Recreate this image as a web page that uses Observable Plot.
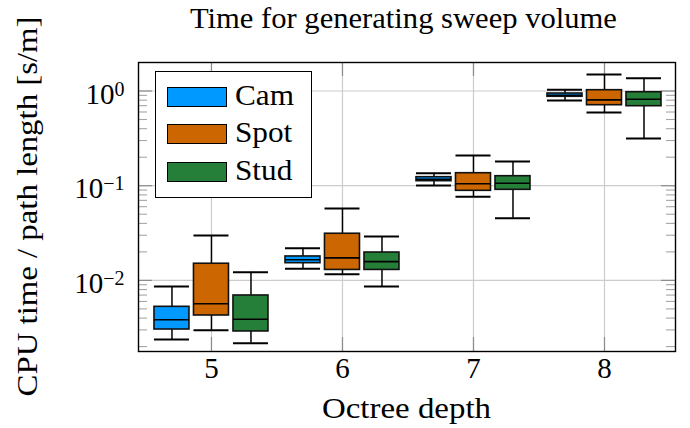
<!DOCTYPE html>
<html>
<head>
<meta charset="utf-8">
<script src="https://cdn.jsdelivr.net/npm/d3@7"></script>
<script src="https://cdn.jsdelivr.net/npm/@observablehq/plot@0.6"></script>
<style>
  body { margin: 0; background: #fff; }
  #wrap { position: relative; width: 690px; height: 428px; color: #000; background: #fff; }
  #title { height: 40px; box-sizing: border-box; width: 690px; padding-top: 4px; padding-left: 117px; line-height: 28px; text-align: center; white-space: nowrap; }
  #title span { display: inline-block; transform-origin: 50% 50%; }
  #legend { position: absolute; left: 155px; top: 71px; width: 157px; height: 127px; box-sizing: border-box; border: 1.4px solid #000; background: #fff; }
  .sw { position: absolute; left: 11px; width: 60px; height: 20px; box-sizing: border-box; border: 1.4px solid #000; }
  .lab { position: absolute; left: 79px; line-height: 29px; white-space: nowrap; transform-origin: 0 50%; }
  svg { display: block; }
</style>
</head>
<body>
<div id="wrap">
  <div id="title"><span></span></div>
  <div id="chart"></div>
  <div id="legend"></div>
</div>
<script>
// ---- data ----
const titleText = "Time for generating sweep volume";
const xLabel = "Octree depth";
const yLabel = "CPU time / path length [s/m]";
const depths = [5, 6, 7, 8];
const xTickLabels = ["5", "6", "7", "8"];
const seriesNames = ["Cam", "Spot", "Stud"];
const seriesColors = ["#0099ff", "#cc6600", "#267f39"];
const majorY = [0.01, 0.1, 1];
const yTickExponents = ["\u22122", "\u22121", "0"];
// per depth: [lower whisker, Q1, median, Q3, upper whisker]
const camStats = [
  [0.00238, 0.00303, 0.00384, 0.00526, 0.00862],
  [0.0133, 0.0152, 0.0165, 0.0179, 0.0219],
  [0.1005, 0.1116, 0.117, 0.123, 0.1355],
  [0.794, 0.869, 0.903, 0.941, 1.03]
];
const spotStats = [
  [0.00298, 0.00426, 0.00566, 0.0150, 0.0298],
  [0.0116, 0.0129, 0.0173, 0.0311, 0.0574],
  [0.0763, 0.0883, 0.1047, 0.1355, 0.2084],
  [0.593, 0.708, 0.807, 1.02, 1.493]
];
const studStats = [
  [0.00217, 0.00289, 0.00389, 0.00693, 0.0122],
  [0.00862, 0.0129, 0.0158, 0.0197, 0.0291],
  [0.0454, 0.0905, 0.106, 0.126, 0.180],
  [0.315, 0.691, 0.819, 0.971, 1.365]
];

// ---- font selection (serif, Computer-Modern-like) ----
const ctx = document.createElement("canvas").getContext("2d");
function hasFont(name) {
  const s = "mmmmmmmmmmlli10WQgy";
  for (const fb of ["monospace", "sans-serif"]) {
    ctx.font = `40px ${fb}`; const a = ctx.measureText(s).width;
    ctx.font = `40px "${name}", ${fb}`; const b = ctx.measureText(s).width;
    if (Math.abs(a - b) > 0.5) return true;
  }
  return false;
}
const fontCandidates = [["Liberation Serif", 29], ["Times New Roman", 29], ["DejaVu Serif", 26], ["Noto Serif", 27]];
let FONT = "serif", FS = 28;
for (const [f, s] of fontCandidates) { if (hasFont(f)) { FONT = f; FS = s; break; } }
const FAMILY = `"${FONT}", serif`;
function widthOf(text, size) {
  ctx.font = `${size}px ${FAMILY}`;
  return ctx.measureText(text).width;
}

// ---- layout ----
const W = 690, H = 388, mL = 138, mR = 15, mT = 22, mB = 77;
const xDomain = [4.443, 8.542];
const yDomain = [0.001775, 2.0];
const ppu = (W - mL - mR) / (xDomain[1] - xDomain[0]);
const decadePx = (H - mT - mB) / Math.log10(yDomain[1] / yDomain[0]);
const groupOffset = 39.5 / ppu;
const halfW = 17.5 / ppu;
const minorLen = 9, majorLen = 14;
const gridColor = "#cccccc", minorTickColor = "#a6a6a6", majorTickColor = "#8c8c8c";

const statsBySeries = [camStats, spotStats, studStats];
const rows = [];
seriesNames.forEach((s, i) => depths.forEach((d, j) => {
  const [lo, q1, med, q3, hi] = statsBySeries[i][j];
  const cx = d + (i - 1) * groupOffset;
  rows.push({series: s, cx, xl: cx - halfW, xr: cx + halfW, lo, q1, med, q3, hi});
}));

const minorY = [];
for (let e = -3; e <= 0; e++) for (let m = 2; m <= 9; m++) {
  const v = m * Math.pow(10, e);
  if (v > yDomain[0] && v < yDomain[1]) minorY.push(v);
}

const yLo = yDomain[0], yHi = yDomain[1];
const tickY = Math.pow(10, majorLen / decadePx);

const chart = Plot.plot({
  width: W, height: H,
  marginLeft: mL, marginRight: mR, marginTop: mT, marginBottom: mB,
  x: {domain: xDomain, axis: null},
  y: {type: "log", domain: yDomain, axis: null},
  color: {domain: seriesNames, range: seriesColors},
  style: {fontFamily: FAMILY, fontSize: FS + "px", background: "#fff", color: "#000", overflow: "visible"},
  marks: [
    Plot.ruleY(majorY, {stroke: gridColor, strokeWidth: 1.2}),
    Plot.ruleX(depths, {stroke: gridColor, strokeWidth: 1.2}),
    Plot.ruleY(minorY, {x1: xDomain[0], x2: xDomain[0] + minorLen / ppu, stroke: minorTickColor, strokeWidth: 1.1}),
    Plot.ruleY(minorY, {x1: xDomain[1] - minorLen / ppu, x2: xDomain[1], stroke: minorTickColor, strokeWidth: 1.1}),
    Plot.ruleY(majorY, {x1: xDomain[0], x2: xDomain[0] + majorLen / ppu, stroke: majorTickColor, strokeWidth: 1.2}),
    Plot.ruleY(majorY, {x1: xDomain[1] - majorLen / ppu, x2: xDomain[1], stroke: majorTickColor, strokeWidth: 1.2}),
    Plot.ruleX(depths, {y1: yLo, y2: yLo * tickY, stroke: majorTickColor, strokeWidth: 1.2}),
    Plot.ruleX(depths, {y1: yHi / tickY, y2: yHi, stroke: majorTickColor, strokeWidth: 1.2}),
    // whiskers
    Plot.ruleX(rows, {x: "cx", y1: "lo", y2: "q1", stroke: "#000", strokeWidth: 1.5}),
    Plot.ruleX(rows, {x: "cx", y1: "q3", y2: "hi", stroke: "#000", strokeWidth: 1.5}),
    Plot.ruleY(rows, {y: "lo", x1: "xl", x2: "xr", stroke: "#000", strokeWidth: 2}),
    Plot.ruleY(rows, {y: "hi", x1: "xl", x2: "xr", stroke: "#000", strokeWidth: 2}),
    // boxes
    Plot.rect(rows, {x1: "xl", x2: "xr", y1: "q1", y2: "q3", fill: "series", stroke: "#111", strokeWidth: 1.6}),
    Plot.ruleY(rows, {y: "med", x1: "xl", x2: "xr", stroke: "#000", strokeWidth: 1.6}),
    Plot.frame({stroke: "#000", strokeWidth: 1.4}),
    Plot.axisX(depths, {anchor: "bottom", tickSize: 0, tickPadding: 6, label: null, fontSize: FS,
      tickFormat: d => xTickLabels[depths.indexOf(d)]}),
    Plot.axisY(majorY, {anchor: "left", tickSize: 0, tickPadding: 14, label: null, fontSize: FS,
      tickFormat: d => "10|" + yTickExponents[majorY.indexOf(d)]})
  ]
});
document.getElementById("chart").appendChild(chart);

// superscript exponents on y tick labels
chart.querySelectorAll('g[aria-label="y-axis tick label"] text').forEach(t => {
  const [base, exp] = t.textContent.split("|");
  t.textContent = "";
  t.setAttribute("dy", "0.12em");
  const b = document.createElementNS("http://www.w3.org/2000/svg", "tspan");
  b.textContent = base;
  const e = document.createElementNS("http://www.w3.org/2000/svg", "tspan");
  e.textContent = exp;
  e.setAttribute("dy", "-8");
  e.setAttribute("font-size", Math.round(FS * 0.7));
  t.appendChild(b); t.appendChild(e);
});

const svg = d3.select(chart);
const frameCY = mT + (H - mT - mB) / 2;
const frameCX = mL + (W - mL - mR) / 2;
svg.append("text")
  .attr("transform", `translate(37,${frameCY}) rotate(-90)`)
  .attr("text-anchor", "middle")
  .attr("font-family", FAMILY)
  .attr("font-size", FS)
  .attr("textLength", 380)
  .attr("lengthAdjust", "spacingAndGlyphs")
  .attr("fill", "#000")
  .text(yLabel);
svg.append("text")
  .attr("x", frameCX).attr("y", 378)
  .attr("text-anchor", "middle")
  .attr("font-family", FAMILY)
  .attr("font-size", FS)
  .attr("textLength", 169)
  .attr("lengthAdjust", "spacingAndGlyphs")
  .attr("fill", "#000")
  .text(xLabel);

const title = document.querySelector("#title span");
title.textContent = titleText;
title.style.fontFamily = FAMILY;
title.style.fontSize = FS + "px";
title.style.transform = `scaleX(${427 / widthOf(titleText, FS)})`;

// legend
const legend = document.getElementById("legend");
const legendScale = 59 / widthOf("Cam", FS);
seriesNames.forEach((s, i) => {
  const sw = document.createElement("div");
  sw.className = "sw";
  sw.style.top = (15 + i * 37.3) + "px";
  sw.style.background = seriesColors[i];
  legend.appendChild(sw);
  const lab = document.createElement("div");
  lab.className = "lab";
  lab.style.top = (9 + i * 37.3) + "px";
  lab.style.fontFamily = FAMILY;
  lab.style.fontSize = FS + "px";
  lab.style.transform = `scaleX(${legendScale})`;
  lab.textContent = s;
  legend.appendChild(lab);
});
</script>
</body>
</html>
